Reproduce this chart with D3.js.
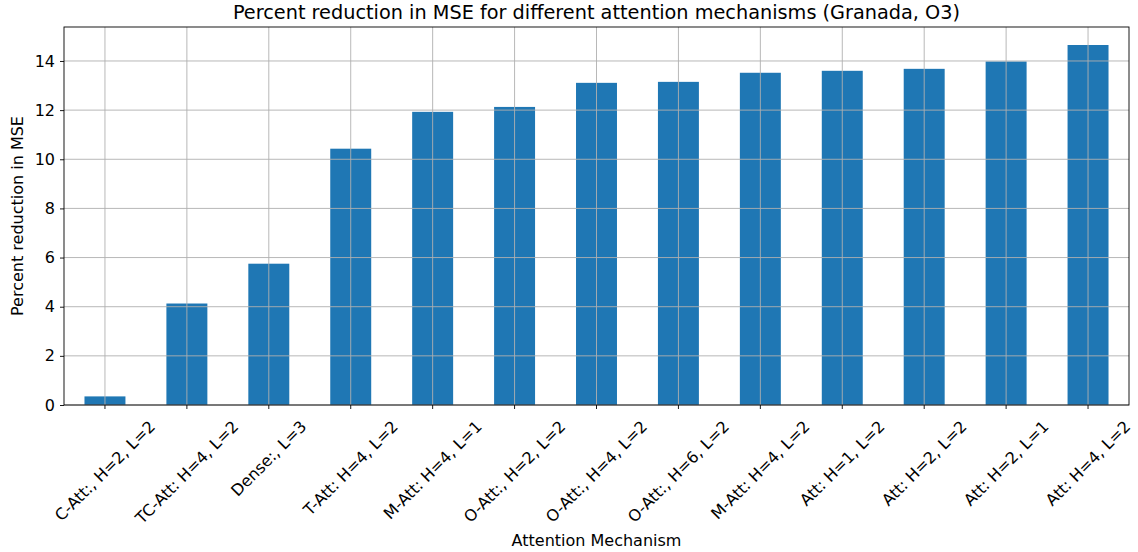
<!DOCTYPE html>
<html>
<head>
<meta charset="utf-8">
<script src="https://cdn.jsdelivr.net/npm/d3@7"></script>
<style>
  body { margin: 0; background: #fff; }
  svg { display: block; font-family: "DejaVu Sans", sans-serif; }
</style>
</head>
<body>
<div id="chart"></div>
<script>
const categories = [
  'C-Att:, H=2, L=2', 'TC-Att: H=4, L=2', 'Dense:, L=3', 'T-Att: H=4, L=2',
  'M-Att: H=4, L=1', 'O-Att:, H=2, L=2', 'O-Att:, H=4, L=2', 'O-Att:, H=6, L=2',
  'M-Att: H=4, L=2', 'Att: H=1, L=2', 'Att: H=2, L=2', 'Att: H=2, L=1', 'Att: H=4, L=2'
];
const reduction = [0.35, 4.13, 5.75, 10.43, 11.93, 12.13, 13.11, 13.15, 13.52, 13.6, 13.68, 13.98, 14.65];
const yTicks = [0, 2, 4, 6, 8, 10, 12, 14];

const width = 1138, height = 552;
const margin = { top: 27, right: 9, bottom: 147, left: 64 };
const innerW = width - margin.left - margin.right;
const innerH = height - margin.top - margin.bottom;
const fontSize = 16;

const svg = d3.select('#chart').append('svg')
  .attr('width', width)
  .attr('height', height);

const g = svg.append('g').attr('transform', `translate(${margin.left},${margin.top})`);

const x = d3.scaleBand().domain(categories).range([0, innerW]).paddingInner(0.5).paddingOuter(0.25);
const y = d3.scaleLinear().domain([0, d3.max(reduction) * 1.05]).range([innerH, 0]);

// bars
g.selectAll('rect.bar')
  .data(reduction)
  .enter()
  .append('rect')
  .attr('x', (d, i) => x(categories[i]))
  .attr('width', x.bandwidth())
  .attr('y', d => y(d))
  .attr('height', d => innerH - y(d))
  .attr('fill', '#1f77b4');

// grid on top of the bars, like the reference
g.selectAll('line.grid-x')
  .data(categories)
  .enter()
  .append('line')
  .attr('x1', d => x(d) + x.bandwidth() / 2)
  .attr('x2', d => x(d) + x.bandwidth() / 2)
  .attr('y1', 0).attr('y2', innerH)
  .attr('stroke', '#b0b0b0').attr('stroke-width', 0.9);

g.selectAll('line.grid-y')
  .data(yTicks)
  .enter()
  .append('line')
  .attr('x1', 0).attr('x2', innerW)
  .attr('y1', d => y(d)).attr('y2', d => y(d))
  .attr('stroke', '#b0b0b0').attr('stroke-width', 0.9);

// y axis
const yAxis = g.append('g')
  .call(d3.axisLeft(y).tickValues(yTicks).tickSize(4).tickPadding(5).tickSizeOuter(0));
yAxis.select('.domain').remove();
yAxis.selectAll('line').attr('stroke', '#000').attr('stroke-width', 0.9);
yAxis.selectAll('text').attr('font-size', fontSize + 'px').attr('fill', '#000').attr('font-family', '"DejaVu Sans", sans-serif');

// x axis ticks
const xAxis = g.append('g')
  .attr('transform', `translate(0,${innerH})`)
  .call(d3.axisBottom(x).tickSize(4).tickSizeOuter(0));
xAxis.select('.domain').remove();
xAxis.selectAll('line').attr('stroke', '#000').attr('stroke-width', 0.9);
xAxis.selectAll('text').remove();

// rotated x labels, bbox centred under the tick
const labelTop = innerH + 13;
categories.forEach(c => {
  const t = g.append('text')
    .attr('font-size', fontSize + 'px')
    .attr('text-anchor', 'middle')
    .attr('dominant-baseline', 'central')
    .text(c);
  const w = t.node().getComputedTextLength();
  const h = fontSize;
  const cy = labelTop + (w + h) * Math.SQRT1_2 / 2;
  const cx = x(c) + x.bandwidth() / 2;
  t.attr('transform', `translate(${cx},${cy}) rotate(-45)`);
});

// frame
g.append('rect')
  .attr('width', innerW).attr('height', innerH)
  .attr('fill', 'none').attr('stroke', '#000').attr('stroke-width', 0.9);

// title and axis labels
svg.append('text')
  .attr('x', margin.left + innerW / 2).attr('y', 19)
  .attr('text-anchor', 'middle')
  .attr('font-size', '19.3px')
  .text('Percent reduction in MSE for different attention mechanisms (Granada, O3)');

svg.append('text')
  .attr('x', margin.left + innerW / 2).attr('y', 546)
  .attr('text-anchor', 'middle')
  .attr('font-size', fontSize + 'px')
  .text('Attention Mechanism');

svg.append('text')
  .attr('transform', `translate(23,${margin.top + innerH / 2}) rotate(-90)`)
  .attr('text-anchor', 'middle')
  .attr('font-size', fontSize + 'px')
  .text('Percent reduction in MSE');
</script>
</body>
</html>
